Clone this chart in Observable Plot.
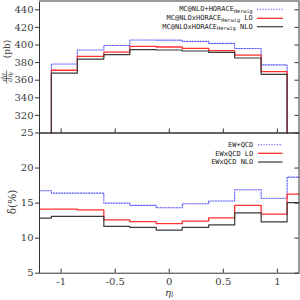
<!DOCTYPE html>
<html><head><meta charset="utf-8">
<script src="https://cdn.jsdelivr.net/npm/d3@7"></script>
<script src="https://cdn.jsdelivr.net/npm/@observablehq/plot@0.6"></script>
<style>
body{margin:0;background:#fff}
#c{position:relative;width:300px;height:300px;overflow:hidden;background:#fff}
#c svg{position:absolute;left:0;display:block}
</style>
</head><body><div id="c"></div>
<script>
// ---- data ----
const binEdges = [-1.09, -0.85, -0.605, -0.365, -0.12, 0.12, 0.365, 0.605, 0.85, 1.09];
const xDomain = [-1.2, 1.2];
const xTicks = [-1, -0.5, 0, 0.5, 1];
const sigmaDomain = [300, 450];
const sigmaTicks = [320, 340, 360, 380, 400, 420, 440];
const deltaDomain = [5, 25];
const deltaTicks = [5, 10, 15, 20, 25];

// top panel: d sigma / d eta (pb), one value per bin
const sigmaPlus  = [378.4, 394.3, 399.5, 405.7, 405.5, 404.1, 401.8, 396.1, 377.4];
const sigmaLO    = [371.3, 387.0, 392.0, 398.4, 397.7, 396.1, 393.5, 388.6, 369.7];
const sigmaNLO   = [368.0, 384.0, 389.0, 394.7, 394.3, 393.2, 391.6, 385.2, 366.6];

// bottom panel: delta (%), segments from left edge, bins, to right edge
const deltaPlus  = [16.77, 16.43, 16.43, 15.0, 14.67, 14.33, 14.9, 15.3, 16.9, 15.7, 18.7];
const deltaLO    = [14.15, 14.15, 14.03, 12.6, 12.35, 12.06, 12.43, 12.88, 14.67, 13.43, 16.27];
const deltaNLO   = [12.86, 13.1, 13.1, 11.67, 11.55, 11.15, 11.55, 11.88, 13.6, 12.33, 15.07];

const topLegend = [
  {main: "MC@NLO+HORACE", sub: "Herwig", tail: ""},
  {main: "MC@NLOxHORACE", sub: "Herwig", tail: " LO"},
  {main: "MC@NLOxHORACE", sub: "Herwig", tail: " NLO"}
];
const bottomLegend = ["EW+QCD", "EWxQCD LO", "EWxQCD NLO"];

// ---- styles ----
const BLUE = "#5a5aff", RED = "#ff3030", BLACK = "#3a3a3a";
const seriesStyle = [
  {stroke: BLUE, strokeWidth: 1.1, strokeDasharray: "1.3,1.4"},
  {stroke: RED, strokeWidth: 1.3},
  {stroke: BLACK, strokeWidth: 1.2}
];

function histPath(values) {
  const base = sigmaDomain[0];
  const pts = [{x: binEdges[0], y: base}];
  values.forEach((v, i) => pts.push({x: binEdges[i], y: v}));
  pts.push({x: binEdges[binEdges.length - 1], y: values[values.length - 1]});
  pts.push({x: binEdges[binEdges.length - 1], y: base});
  return pts;
}
function stepPath(values) {
  const edges = [xDomain[0], ...binEdges, xDomain[1]];
  const pts = values.map((v, i) => ({x: edges[i], y: v}));
  pts.push({x: edges[edges.length - 1], y: values[values.length - 1]});
  return pts;
}

const W = 300, ML = 39, MR = 1.5;
const innerW = W - ML - MR;
const fontStyle = {fontFamily: "DejaVu Serif", fontSize: "10px", color: "#3c3c3c", background: "transparent", overflow: "visible"};

const topH = 133, topMT = 0.5, topMB = 0.5;
const topInnerH = topH - topMT - topMB;
const topPlot = Plot.plot({
  width: W, height: topH,
  marginLeft: ML, marginRight: MR, marginTop: topMT, marginBottom: topMB,
  style: fontStyle,
  x: {domain: xDomain, axis: null},
  y: {domain: sigmaDomain, axis: null},
  marks: [
    ...[sigmaPlus, sigmaLO, sigmaNLO].map((s, k) =>
      Plot.line(histPath(s), {x: "x", y: "y", curve: "step-after", ...seriesStyle[k]})),
    Plot.axisY({ticks: sigmaTicks, tickSize: 4, tickPadding: 2, tickFormat: d => String(d), label: null, stroke: "#333"}),
    Plot.tickY(sigmaTicks, {y: d => d, insetLeft: innerW - 4, stroke: "#333"}),
    Plot.tickX(xTicks, {x: d => d, insetTop: topInnerH - 4, stroke: "#333"}),
    Plot.frame({stroke: "#333"}),
    Plot.ruleY([sigmaDomain[1]], {stroke: "#999", strokeWidth: 2})
  ]
});
topPlot.style.top = "0px";

const botTop = 132, botH = 168, botMT = 0.5, botMB = 27.3;
const botInnerH = botH - botMT - botMB;
const botPlot = Plot.plot({
  width: W, height: botH,
  marginLeft: ML, marginRight: MR, marginTop: botMT, marginBottom: botMB,
  style: fontStyle,
  x: {domain: xDomain, axis: null},
  y: {domain: deltaDomain, axis: null},
  marks: [
    ...[deltaPlus, deltaLO, deltaNLO].map((s, k) =>
      Plot.line(stepPath(s), {x: "x", y: "y", curve: "step-after", ...seriesStyle[k]})),
    Plot.axisY({ticks: deltaTicks, tickSize: 4, tickPadding: 2, tickFormat: d => String(d), label: null, stroke: "#333"}),
    Plot.tickY(deltaTicks, {y: d => d, insetLeft: innerW - 4, stroke: "#333"}),
    Plot.tickX(xTicks, {x: d => d, insetTop: botInnerH - 4, stroke: "#333"}),
    Plot.axisX({ticks: xTicks, tickSize: 0, tickPadding: 5, tickFormat: d => String(d), label: null}),
    Plot.frame({stroke: "#333"})
  ]
});
botPlot.style.top = botTop + "px";

const c = document.getElementById("c");
c.appendChild(topPlot);
c.appendChild(botPlot);

// ---- overlay: legends and axis titles ----
const ov = d3.select(c).append("svg")
  .attr("width", 300).attr("height", 300)
  .style("top", "0px").style("overflow", "visible")
  .style("white-space", "pre");

const mono = "DejaVu Sans Mono";
topLegend.forEach((r, i) => {
  const yLine = [9.3, 18.3, 26.7][i];
  const t = ov.append("text").attr("x", 252.7).attr("y", yLine + 1.8)
    .attr("text-anchor", "end").attr("font-family", mono).attr("font-size", 7).attr("fill", "#222");
  t.append("tspan").text(r.main);
  t.append("tspan").attr("font-size", 5.2).attr("dy", 1.6).text(r.sub);
  t.append("tspan").attr("dy", -1.6).text(r.tail);
  const st = seriesStyle[i];
  ov.append("line").attr("x1", 257).attr("x2", 283).attr("y1", yLine).attr("y2", yLine)
    .attr("stroke", st.stroke).attr("stroke-width", st.strokeWidth)
    .attr("stroke-dasharray", st.strokeDasharray || null);
});
bottomLegend.forEach((r, i) => {
  const yLine = [144.7, 153.3, 162][i];
  ov.append("text").attr("x", 253.3).attr("y", yLine + 2.3)
    .attr("text-anchor", "end").attr("font-family", mono).attr("font-size", 7).attr("fill", "#222")
    .text(r);
  const st = seriesStyle[i];
  ov.append("line").attr("x1", 258).attr("x2", 282.5).attr("y1", yLine).attr("y2", yLine)
    .attr("stroke", st.stroke).attr("stroke-width", st.strokeWidth)
    .attr("stroke-dasharray", st.strokeDasharray || null);
});

// top y title: dσ/dη_l (pb)
const g1 = ov.append("g").attr("transform", "translate(7,62) rotate(-90)")
  .attr("font-family", "DejaVu Serif").attr("fill", "#3c3c3c");
g1.append("text").attr("x", 13).attr("y", 3).attr("text-anchor", "middle").attr("font-size", 9).text("(pb)");
g1.append("text").attr("x", -15).attr("y", -1.4).attr("text-anchor", "middle")
  .attr("font-size", 6.5).attr("font-style", "italic").text("dσ");
g1.append("line").attr("x1", -21.5).attr("x2", -8.5).attr("y1", -0.4).attr("y2", -0.4)
  .attr("stroke", "#333").attr("stroke-width", 0.7);
const den = g1.append("text").attr("x", -15).attr("y", 5.2).attr("text-anchor", "middle")
  .attr("font-size", 6.5).attr("font-style", "italic");
den.append("tspan").text("dη");
den.append("tspan").attr("font-size", 4.5).attr("dy", 1).text("l");

// bottom y title: δ(%)
ov.append("text").attr("transform", "translate(15.5,202) rotate(-90)")
  .attr("text-anchor", "middle").attr("font-family", "DejaVu Serif").attr("font-size", 10.5)
  .attr("fill", "#3c3c3c").text("δ(%)");

// x title: η_l
const xt = ov.append("text").attr("x", 169).attr("y", 295.5).attr("text-anchor", "middle")
  .attr("font-family", "DejaVu Serif").attr("font-size", 10).attr("font-style", "italic").attr("fill", "#3c3c3c");
xt.append("tspan").text("η");
xt.append("tspan").attr("font-size", 7).attr("dy", 1.5).text("l");
</script>
</body></html>
